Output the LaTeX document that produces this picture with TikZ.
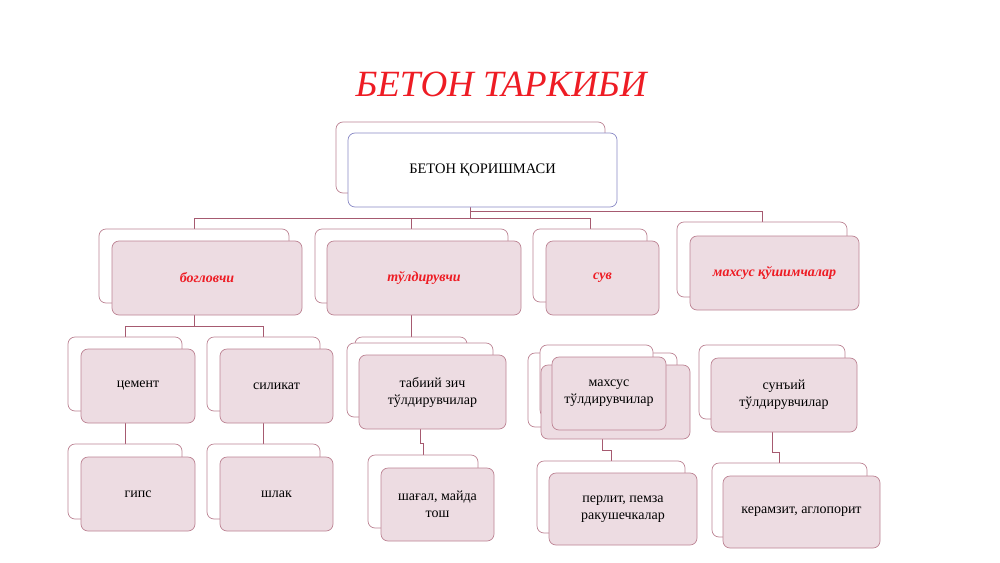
\documentclass[tikz,border=0pt]{standalone}
\usepackage{fontspec}
\setmainfont{Liberation Serif}
\definecolor{pinkfill}{HTML}{EDDCE2}
\definecolor{edgecol}{HTML}{BD8494}
\definecolor{conncol}{HTML}{A65A70}
\definecolor{blueedge}{HTML}{8A8AC6}
\definecolor{titlered}{HTML}{EE1C24}
\pgfdeclarelayer{bgfill}
\pgfdeclarelayer{bglines}
\pgfsetlayers{bgfill,bglines,main}
\begin{document}
\begin{tikzpicture}[x=1pt,y=-1pt,
  backbox/.style={draw=edgecol, fill=white, rounded corners=7pt, line width=0.7pt, inner sep=0pt},
  frontbox/.style={draw=edgecol, fill=pinkfill, rounded corners=7pt, line width=0.7pt, inner sep=0pt, align=center, font=\fontsize{14}{17}\selectfont},
  lblbox/.style={frontbox, font=\fontsize{14}{17}\selectfont\bfseries\itshape, text=titlered},
  cn/.style={draw=conncol, line width=0.7pt}]
\begin{pgfonlayer}{bgfill}
\fill[white] (0,0) rectangle (1000,562);
\end{pgfonlayer}
\useasboundingbox (0,0) rectangle (1000,562);

% title
\node[font=\fontsize{37}{40}\selectfont\itshape, text=titlered] (title) at (501,84) {БЕТОН ТАРКИБИ};

% top
\node[backbox, minimum width=269pt, minimum height=71pt] (topB) at (470.5,157.5) {};
\node[draw=blueedge, fill=white, rounded corners=7pt, line width=0.7pt, inner sep=0pt, minimum width=269pt, minimum height=74pt, font=\fontsize{14.5}{17}\selectfont] (topF) at (482.5,170) {БЕТОН ҚОРИШМАСИ};

% level 2
\node[backbox, minimum width=190pt, minimum height=74pt] (bogB) at (194,266) {};
\node[lblbox, minimum width=190pt, minimum height=74pt] (bogF) at (207,278) {богловчи};
\node[backbox, minimum width=193pt, minimum height=74pt] (tuldB) at (411.5,266) {};
\node[lblbox, minimum width=194pt, minimum height=74pt] (tuldF) at (424,278) {тўлдирувчи};
\node[backbox, minimum width=114pt, minimum height=73pt] (suvB) at (590,265.5) {};
\node[lblbox, minimum width=113pt, minimum height=74pt] (suvF) at (602.5,278) {сув};
\node[backbox, minimum width=170pt, minimum height=75pt] (mqB) at (762,259.5) {};
\node[lblbox, minimum width=169pt, minimum height=74pt] (mqF) at (774.5,273) {махсус қўшимчалар};

% level 3 left
\node[backbox, minimum width=114pt, minimum height=74pt] (cemB) at (125,374) {};
\node[frontbox, minimum width=114pt, minimum height=74pt] (cemF) at (138,386) {цемент};
\node[backbox, minimum width=113pt, minimum height=74pt] (silB) at (263.5,374) {};
\node[frontbox, minimum width=113pt, minimum height=74pt] (silF) at (276.5,386) {силикат};
\node[backbox, minimum width=114pt, minimum height=75pt] (gipB) at (125,481.5) {};
\node[frontbox, minimum width=114pt, minimum height=74pt] (gipF) at (138,494) {гипс};
\node[backbox, minimum width=113pt, minimum height=75pt] (shlB) at (263.5,481.5) {};
\node[frontbox, minimum width=113pt, minimum height=74pt] (shlF) at (276.5,494) {шлак};

% tabiiy
\node[backbox, minimum width=112pt, minimum height=73pt] (tabA) at (411,373.5) {};
\node[backbox, minimum width=146pt, minimum height=74pt] (tabB) at (420,380) {};
\node[frontbox, minimum width=147pt, minimum height=74pt] (tabF) at (432.5,392) {табиий зич\\тўлдирувчилар};
\node[backbox, minimum width=110pt, minimum height=73pt] (shgB) at (423,491.5) {};
\node[frontbox, minimum width=113pt, minimum height=73pt] (shgF) at (437.5,504.5) {шағал, майда\\тош};

% maxsus tuldiruvchilar
\node[backbox, minimum width=149pt, minimum height=74pt] (mtA) at (602.5,390) {};
\node[backbox, minimum width=113pt, minimum height=72pt] (mtB) at (596.5,381) {};
\node[frontbox, minimum width=149pt, minimum height=74pt] (mtC) at (615.5,402) {};
\node[frontbox, minimum width=114pt, minimum height=73pt] (mtF) at (609,393.5) {махсус\\тўлдирувчилар};
\node[backbox, minimum width=148pt, minimum height=72pt] (perB) at (611,497) {};
\node[frontbox, minimum width=148pt, minimum height=72pt] (perF) at (623,509) {перлит, пемза\\ракушечкалар};

% sun'iy
\node[backbox, minimum width=146pt, minimum height=74pt] (sunB) at (772,382) {};
\node[frontbox, minimum width=146pt, minimum height=74pt] (sunF) at (784,395) {сунъий\\тўлдирувчилар};
\node[backbox, minimum width=155pt, minimum height=74pt] (kerB) at (789.5,500) {};
\node[frontbox, minimum width=157pt, minimum height=72pt] (kerF) at (801.5,512) {керамзит, аглопорит};

% connectors
\begin{pgfonlayer}{bglines}
\draw[cn] (topB.south) -- ++(0,25) -| (bogB.north);
\draw[cn] (topB.south) -- ++(0,25) -| (tuldB.north);
\draw[cn] (topB.south) -- ++(0,25) -| (suvB.north);
\draw[cn] (topB.south) -- ++(0,18) -| (mqB.north);
\draw[cn] (bogB.south) -- ++(0,23) -| (cemB.north);
\draw[cn] (bogB.south) -- ++(0,23) -| (silB.north);
\draw[cn] (cemB.south) -- (gipB.north);
\draw[cn] (silB.south) -- (shlB.north);
\draw[cn] (tuldB.south) -- (tuldB.south |- tabA.north);
\draw[cn] (tabB.south) -- ++(0,26) -| (shgB.north);
\draw[cn] (mtA.south) -- ++(0,23) -| (perB.north);
\draw[cn] (sunB.south) -- ++(0,33) -| ([xshift=-10pt]kerB.north);
\end{pgfonlayer}
\end{tikzpicture}
\end{document}
